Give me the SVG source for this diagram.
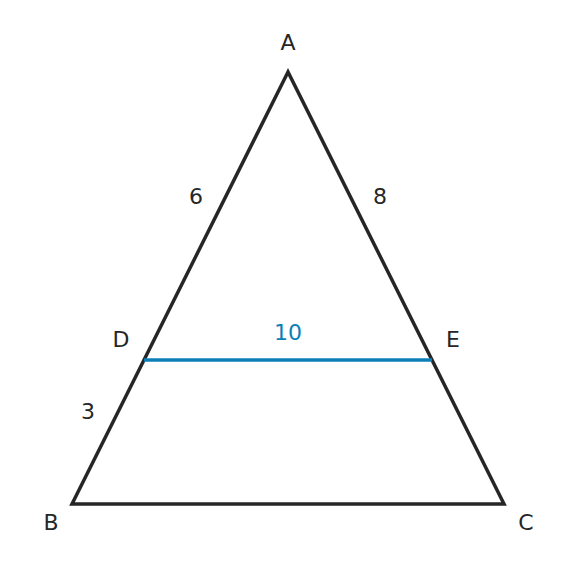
<svg xmlns="http://www.w3.org/2000/svg" width="576" height="576" viewBox="0 0 576 576">
<style>
.lbl{font-family:"DejaVu Sans",sans-serif;font-size:22px;fill:#262626;text-anchor:middle}
.blue{fill:#0b80b6}
.edge{stroke:#262626;stroke-width:3.5;fill:none;stroke-linejoin:miter}
</style>
<rect width="576" height="576" fill="#ffffff"/>
<g id="connectors">
<polygon class="edge" points="288,72 72,504 504,504"/>
<line x1="144" y1="360" x2="432" y2="360" stroke="#0b80b6" stroke-width="3.5"/>
</g>
<g id="node-A"><text class="lbl" x="288" y="50">A</text></g>
<g id="node-B"><text class="lbl" x="51" y="530">B</text></g>
<g id="node-C"><text class="lbl" x="526" y="530">C</text></g>
<g id="node-D"><text class="lbl" x="121" y="347">D</text></g>
<g id="node-E"><text class="lbl" x="453" y="347">E</text></g>
<g id="label-6"><text class="lbl" x="196" y="204">6</text></g>
<g id="label-8"><text class="lbl" x="380" y="204">8</text></g>
<g id="label-3"><text class="lbl" x="88" y="419">3</text></g>
<g id="label-10"><text class="lbl blue" x="288" y="340">10</text></g>
</svg>
